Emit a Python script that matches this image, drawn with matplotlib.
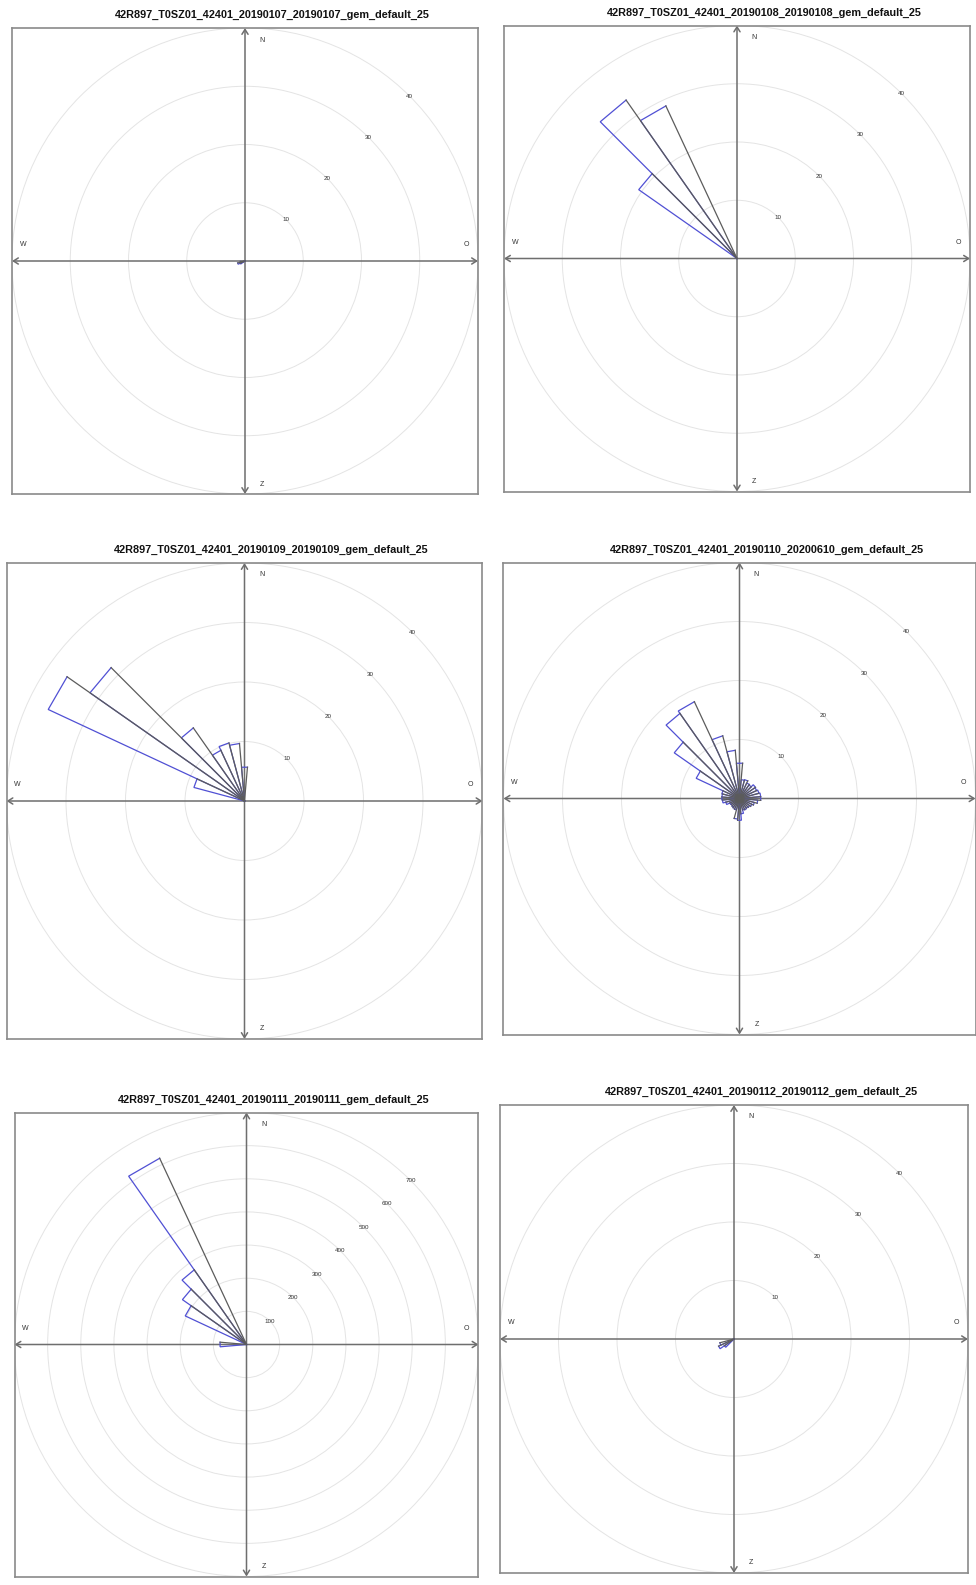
import numpy as np
import matplotlib
matplotlib.use('Agg')
import matplotlib.pyplot as plt
from matplotlib.patches import Circle

plt.rcParams['font.family'] = ['Liberation Sans', 'DejaVu Sans']

titles = [
    '42R897_T0SZ01_42401_20190107_20190107_gem_default_25',
    '42R897_T0SZ01_42401_20190108_20190108_gem_default_25',
    '42R897_T0SZ01_42401_20190109_20190109_gem_default_25',
    '42R897_T0SZ01_42401_20190110_20200610_gem_default_25',
    '42R897_T0SZ01_42401_20190111_20190111_gem_default_25',
    '42R897_T0SZ01_42401_20190112_20190112_gem_default_25',
]

# start of each 10 degree direction sector and the count in it
dir_0107 = [235, 245, 255]
cnt_0107 = [0.9, 1.3, 0.8]

dir_0108 = [305, 315, 325]
cnt_0108 = [20.6, 33.2, 28.9]

dir_0109 = [285, 295, 305, 315, 325, 335, 345, 355]
cnt_0109 = [8.8, 36.4, 31.7, 15.0, 9.4, 10.1, 9.7, 5.7]

dir_0110 = [5, 15, 25, 35, 45, 55, 65, 75, 85, 95, 105, 115,
            125, 135, 145, 155, 165, 175, 185, 195, 205, 215, 225, 235,
            245, 255, 265, 275, 285, 295, 305, 315, 325, 335, 345, 355]
cnt_0110 = [3.2, 3.3, 2.9, 2.8, 3.3, 3.2, 3.4, 3.6, 3.6, 3.1, 2.6, 2.3,
            2.1, 2.0, 2.1, 2.0, 2.6, 3.7, 3.5, 2.0, 1.9, 1.8, 1.7, 1.8,
            2.4, 2.9, 3.0, 3.0, 3.1, 8.1, 13.5, 17.6, 18.1, 11.0, 8.2, 6.0]

dir_0111 = [265, 295, 305, 315, 325]
cnt_0111 = [80, 204, 236, 275, 620]

dir_0112 = [225, 235, 245]
cnt_0112 = [2.0, 2.9, 2.5]

all_dirs = [dir_0107, dir_0108, dir_0109, dir_0110, dir_0111, dir_0112]
all_cnts = [cnt_0107, cnt_0108, cnt_0109, cnt_0110, cnt_0111, cnt_0112]

ring_step = [10, 10, 10, 10, 100, 10]
ring_max = [40, 40, 40, 40, 700, 40]
bin_width = 10

# panel frame centre and half size in pixels (image coords, y down)
box_cx = [245, 737, 244.5, 739.5, 246.5, 734]
box_cy = [261, 258.5, 801, 798.5, 1344.5, 1339]
box_half = [233, 233, 238, 236, 232, 234]

W, H = 976, 1585
DPI = 100

petal_blue = '#5050d4'
petal_gray = '#5c5c5c'
axis_gray = '#6e6e6e'
ring_gray = '#e4e4e4'


def draw_rose(ax, dirs, counts, step, rmax, title):
    ax.set_xlim(-rmax, rmax)
    ax.set_ylim(-rmax, rmax)
    ax.set_xticks([])
    ax.set_yticks([])
    for sp in ax.spines.values():
        sp.set_color('#8a8a8a')
        sp.set_linewidth(1.2)

    # concentric rings with their labels on the 45 degree line
    for r in range(step, rmax + step, step):
        ax.add_patch(Circle((0, 0), r, fill=False, color=ring_gray, lw=0.7, zorder=1))
        ax.text(r / np.sqrt(2), r / np.sqrt(2), str(r), fontsize=4.5, color='#333333',
                ha='center', va='center', zorder=2)

    # cross with arrow heads
    arr = dict(arrowstyle='<->,head_length=0.35,head_width=0.22', color=axis_gray,
               lw=1.1, shrinkA=0, shrinkB=0, mutation_scale=10)
    ax.annotate('', xy=(rmax, 0), xytext=(-rmax, 0), arrowprops=arr, zorder=2)
    ax.annotate('', xy=(0, rmax), xytext=(0, -rmax), arrowprops=arr, zorder=2)

    lab = dict(fontsize=5, color='#333333', ha='center', va='center')
    ax.annotate('N', xy=(0.5, 1), xycoords='axes fraction', xytext=(17, -12),
                textcoords='offset pixels', **lab)
    ax.annotate('Z', xy=(0.5, 0), xycoords='axes fraction', xytext=(17, 10),
                textcoords='offset pixels', **lab)
    ax.annotate('W', xy=(0, 0.5), xycoords='axes fraction', xytext=(11, 16),
                textcoords='offset pixels', **lab)
    ax.annotate('O', xy=(1, 0.5), xycoords='axes fraction', xytext=(-12, 16),
                textcoords='offset pixels', **lab)

    # petals: blue outline, gray closing edge on the clockwise side
    grays = []
    for d, c in zip(dirs, counts):
        a1 = np.radians(d)
        a2 = np.radians(d + bin_width)
        x1, y1 = c * np.sin(a1), c * np.cos(a1)
        x2, y2 = c * np.sin(a2), c * np.cos(a2)
        ax.plot([0, x1, x2], [0, y1, y2], color=petal_blue, lw=0.9,
                solid_joinstyle='miter', zorder=3)
        grays.append((x2, y2))
    for x2, y2 in grays:
        ax.plot([x2, 0], [y2, 0], color=petal_gray, lw=0.9, zorder=4)

    ax.annotate(title, xy=(0.5, 1), xycoords='axes fraction', xytext=(27, 13),
                textcoords='offset pixels', ha='center', va='center',
                fontsize=7.8, fontweight='bold', color='#111111',
                annotation_clip=False)


fig = plt.figure(figsize=(W / DPI, H / DPI), dpi=DPI)

for i in range(6):
    cx, cy, h = box_cx[i], box_cy[i], box_half[i]
    ax = fig.add_axes([(cx - h) / W, 1 - (cy + h) / H, 2 * h / W, 2 * h / H])
    draw_rose(ax, all_dirs[i], all_cnts[i], ring_step[i], ring_max[i], titles[i])

fig.savefig('out.png', dpi=DPI, facecolor='white')
